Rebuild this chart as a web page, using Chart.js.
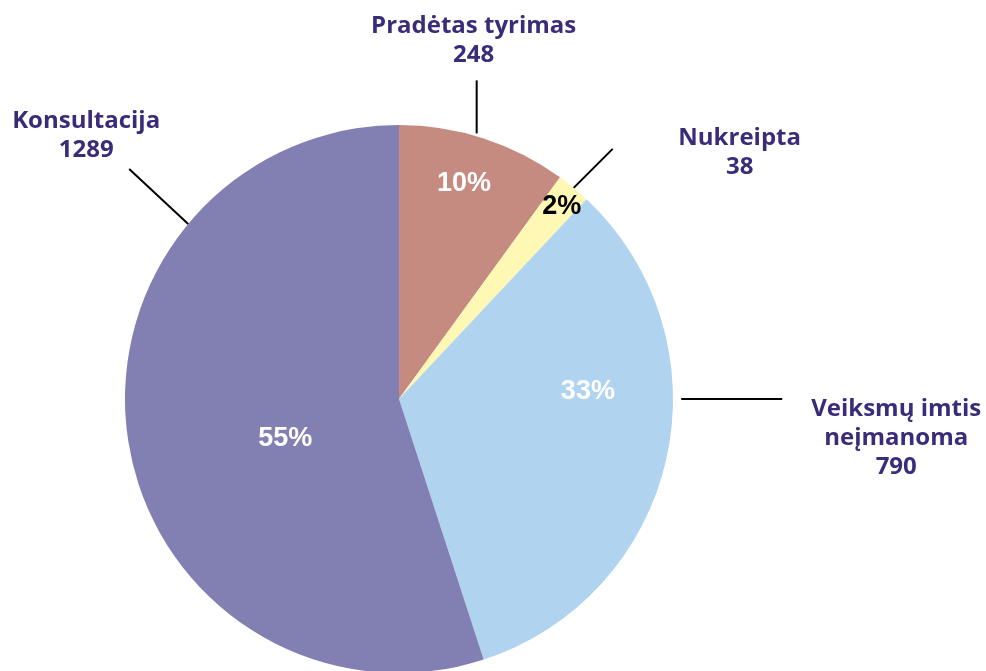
<!DOCTYPE html>
<html>
<head>
<meta charset="utf-8">
<script src="https://cdn.jsdelivr.net/npm/chart.js@4"></script>
<style>
  html, body { margin: 0; padding: 0; background: #fff; overflow: hidden; }
  #wrap { width: 986px; height: 700px; }
</style>
</head>
<body>
<div id="wrap"><canvas id="grafico"></canvas></div>
<script>
// duomenys
const kategorijos = ["Pradėtas tyrimas", "Nukreipta", "Veiksmų imtis\nneįmanoma", "Konsultacija"];
const kiekiai = [248, 38, 790, 1289];
const procentai = [10, 2, 33, 55];
const spalvos = ["#C68B80", "#FEF8B4", "#B0D3F0", "#827FB3"];

// etikečių išdėstymas (kampas nuo viršaus pagal laikrodžio rodyklę)
const isdestymas = [
  { linija: [16.3, 1.01], galas: [0, -53], tekstas: [-3, -107], pct: [16.8, 0.82, "#fff"] },
  { linija: [39.6, 1.0], galas: [39, -39], tekstas: [166, -50], pct: [40.2, 0.92, "#000"] },
  { linija: [90, 1.03], galas: [101, 0], tekstas: [215, 10], pct: [87.6, 0.69, "#fff"] },
  { linija: [309.7, 1.0], galas: [-59, -55], tekstas: [-102, -103], pct: [250.7, 0.44, "#fff"] }
];

const etiketes = {
  id: "etiketes",
  afterDraw(chart) {
    const ctx = chart.ctx;
    const arcs = chart.getDatasetMeta(0).data;
    ctx.save();
    arcs.forEach((arc, i) => {
      const cfg = isdestymas[i];
      const r = arc.outerRadius;
      const kampas = (cfg.linija[0] - 90) * Math.PI / 180;
      const x0 = arc.x + Math.cos(kampas) * r * cfg.linija[1];
      const y0 = arc.y + Math.sin(kampas) * r * cfg.linija[1];

      // linija
      ctx.strokeStyle = "#000";
      ctx.lineWidth = 2;
      ctx.beginPath();
      ctx.moveTo(x0, y0);
      ctx.lineTo(x0 + cfg.galas[0], y0 + cfg.galas[1]);
      ctx.stroke();

      // pavadinimas + kiekis
      const eil = kategorijos[i].split("\n").concat([String(kiekiai[i])]);
      ctx.fillStyle = "#3B2C7A";
      ctx.font = "bold 24px 'Open Sans'";
      ctx.textAlign = "center";
      ctx.textBaseline = "middle";
      const tx = x0 + cfg.tekstas[0];
      const ty = y0 + cfg.tekstas[1];
      eil.forEach((t, k) => ctx.fillText(t, tx, ty + k * 29));

      // procentai
      const pk = (cfg.pct[0] - 90) * Math.PI / 180;
      const px = arc.x + Math.cos(pk) * r * cfg.pct[1];
      const py = arc.y + Math.sin(pk) * r * cfg.pct[1];
      ctx.fillStyle = cfg.pct[2];
      ctx.font = "bold 27px 'Liberation Sans'";
      ctx.fillText(procentai[i] + "%", px, py);
    });
    ctx.restore();
  }
};

new Chart(document.getElementById("grafico"), {
  type: "pie",
  data: {
    labels: kategorijos,
    datasets: [{
      data: procentai,
      backgroundColor: spalvos,
      borderWidth: 0
    }]
  },
  options: {
    responsive: true,
    maintainAspectRatio: false,
    animation: false,
    layout: { padding: { top: 125, bottom: 27, left: 125, right: 313 } },
    plugins: { legend: { display: false }, tooltip: { enabled: false } }
  },
  plugins: [etiketes]
});
</script>
</body>
</html>
